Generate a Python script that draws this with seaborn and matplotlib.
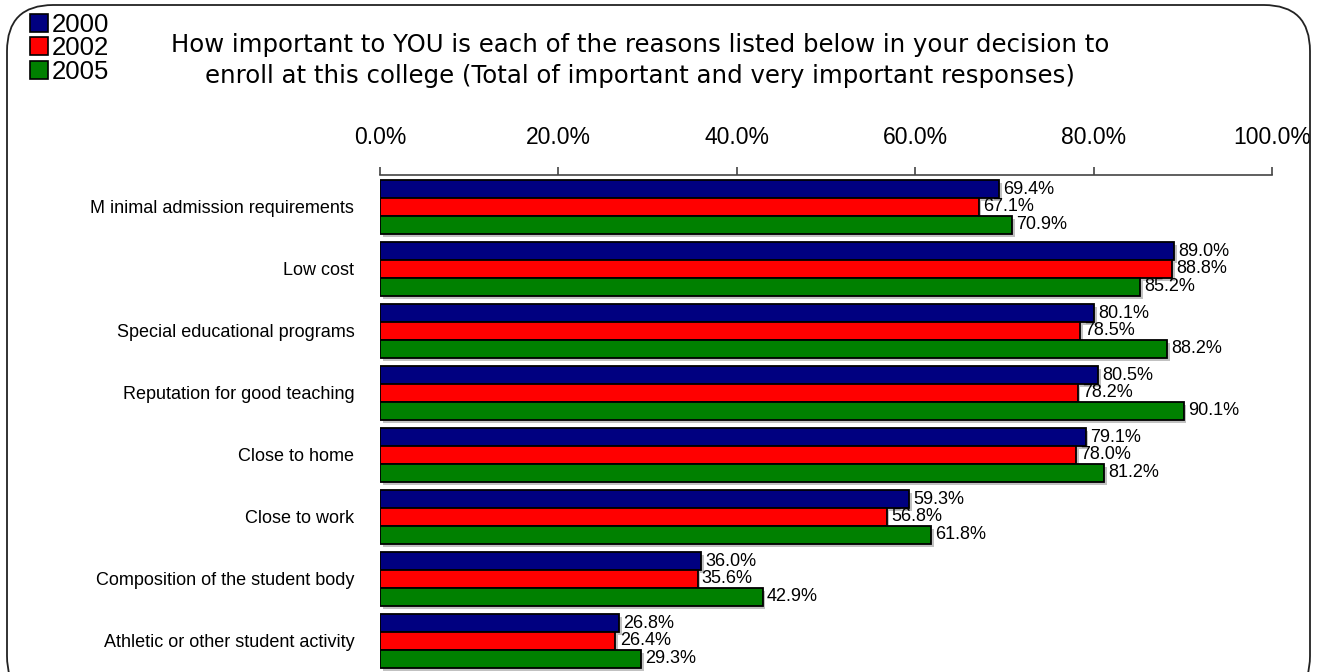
import matplotlib
matplotlib.use("Agg")
import matplotlib.pyplot as plt
import matplotlib.patheffects as pe
from matplotlib.patches import FancyBboxPatch, Patch
from matplotlib.ticker import FuncFormatter
import seaborn as sns
import pandas as pd

# Survey reasons and percentage of important / very important responses
reasons = [
    "M inimal admission requirements",
    "Low cost",
    "Special educational programs",
    "Reputation for good teaching",
    "Close to home",
    "Close to work",
    "Composition of the student body",
    "Athletic or other student activity",
]
years = ["2000", "2002", "2005"]
pct_2000 = [69.4, 89.0, 80.1, 80.5, 79.1, 59.3, 36.0, 26.8]
pct_2002 = [67.1, 88.8, 78.5, 78.2, 78.0, 56.8, 35.6, 26.4]
pct_2005 = [70.9, 85.2, 88.2, 90.1, 81.2, 61.8, 42.9, 29.3]
x_ticks = [0, 20, 40, 60, 80, 100]

colors = ["#000080", "#FF0000", "#008000"]

rows = []
for yr, vals in zip(years, [pct_2000, pct_2002, pct_2005]):
    for r, v in zip(reasons, vals):
        rows.append({"reason": r, "year": yr, "value": v})
df = pd.DataFrame(rows)

sns.set_style("white")
plt.rcParams["font.family"] = ["Liberation Sans", "DejaVu Sans"]
plt.rcParams["text.color"] = "black"
plt.rcParams["xtick.color"] = "black"
plt.rcParams["ytick.color"] = "black"

W, H = 1317, 672
fig = plt.figure(figsize=(W / 100, H / 100), dpi=100)

# rounded chart-area border (bottom edge runs past the canvas)
border = FancyBboxPatch((7 / W, -30 / H), (1310 - 7) / W, (H - 5 + 30) / H,
                        boxstyle="round,pad=0,rounding_size=0.035",
                        transform=fig.transFigure, facecolor="none",
                        edgecolor="#222222", linewidth=1.3,
                        mutation_aspect=W / H, clip_on=False)
fig.patches.append(border)

ax = fig.add_axes([380 / W, 0.0, (1272 - 380) / W, 1 - 175 / H])

sns.barplot(data=df, y="reason", x="value", hue="year", orient="h",
            order=reasons, hue_order=years, palette=colors, saturation=1,
            width=0.87, gap=0, edgecolor="black", linewidth=1.3,
            legend=False, ax=ax)

shadow = [pe.SimplePatchShadow(offset=(2, -2), shadow_rgbFace="#999999", alpha=0.6),
          pe.Normal()]
for cont in ax.containers:
    for bar in cont:
        bar.set_path_effects(shadow)
    ax.bar_label(cont, labels=[f"{b.get_width():.1f}%" for b in cont],
                 padding=3, fontsize=13, color="black")

ax.set_xlim(0, 100)
ax.set_ylim(7.5, -0.516)
ax.set_xticks(x_ticks)
ax.xaxis.set_major_formatter(FuncFormatter(lambda v, p: f"{v:.1f}%"))
ax.xaxis.tick_top()
ax.tick_params(axis="x", which="major", direction="out", length=6, width=1.2,
               color="#444444", labelsize=16.5, pad=13, top=True, bottom=False)
ax.tick_params(axis="y", length=0, labelsize=13, pad=18.5)
ax.set_xlabel("")
ax.set_ylabel("")
for s in ["left", "right", "bottom"]:
    ax.spines[s].set_visible(False)
ax.spines["top"].set_color("#444444")
ax.spines["top"].set_linewidth(1.2)

fig.text(640 / W, 1 - 45 / H,
         "How important to YOU is each of the reasons listed below in your decision to",
         ha="center", va="center", fontsize=17.6, family="DejaVu Sans")
fig.text(640 / W, 1 - 76 / H,
         "enroll at this college (Total of important and very important responses)",
         ha="center", va="center", fontsize=17.6, family="DejaVu Sans")

handles = [Patch(facecolor=c, edgecolor="black", linewidth=1.2) for c in colors]
fig.legend(handles, years, loc="upper left", bbox_to_anchor=(30 / W, 1 - 13 / H),
           frameon=False, fontsize=18.5, handlelength=0.7, handleheight=0.7,
           handletextpad=0.15, labelspacing=-0.02, borderpad=0, borderaxespad=0)

fig.savefig("out.png", dpi=100)
